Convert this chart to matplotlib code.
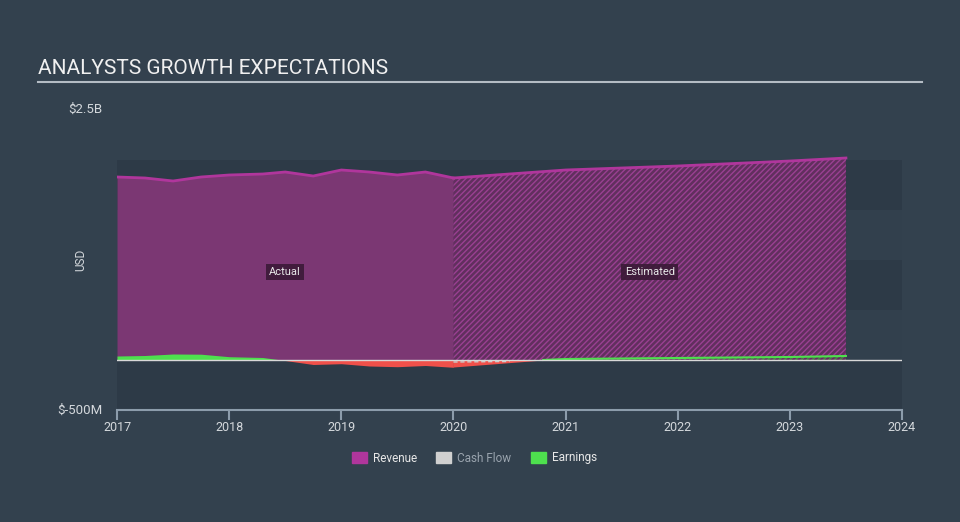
import matplotlib
matplotlib.use("Agg")
import matplotlib.pyplot as plt
from matplotlib.patches import Rectangle

plt.rcParams["font.family"] = ["Roboto", "DejaVu Sans"]
plt.rcParams["hatch.linewidth"] = 1.0

# revenue / earnings in billions USD
rev_years = [2017.0, 2017.25, 2017.5, 2017.75, 2018.0, 2018.3, 2018.5, 2018.75,
             2019.0, 2019.25, 2019.5, 2019.75, 2020.0]
rev_vals = [1.83, 1.82, 1.79, 1.83, 1.85, 1.86, 1.88, 1.84,
            1.90, 1.88, 1.85, 1.88, 1.82]
rev_est_years = [2020.0, 2021.0, 2022.0, 2023.0, 2023.5]
rev_est_vals = [1.82, 1.90, 1.94, 1.99, 2.02]

earn_years = [2017.0, 2017.25, 2017.5, 2017.75, 2018.0, 2018.3, 2018.5, 2018.75,
              2019.0, 2019.25, 2019.5, 2019.75, 2020.0]
earn_vals = [0.04, 0.045, 0.06, 0.058, 0.033, 0.025, -0.005, -0.045,
             -0.037, -0.06, -0.067, -0.055, -0.073]
earn_est_years = [2020.0, 2020.8, 2021.0, 2022.0, 2023.0, 2023.5]
earn_est_vals = [-0.07, 0.0, 0.01, 0.02, 0.03, 0.04]

cash_est_years = [2020.0, 2020.5]
cash_est_vals = [-0.02, -0.015]

year_ticks = [2017, 2018, 2019, 2020, 2021, 2022, 2023, 2024]

BG = "#33414e"
BAND = "#2d3a47"
REV_LINE = "#b0369c"
REV_FILL = "#7b3773"
GREEN = "#4ee04e"
RED = "#f0504a"
TXT = "#d4d8dc"
AXIS = "#8c9cab"

W, H = 960, 522
fig = plt.figure(figsize=(W / 100, H / 100), dpi=100, facecolor=BG)
ax = fig.add_axes([117 / W, (H - 410) / H, 785 / W, 300 / H])
ax.set_facecolor(BG)
ax.set_xlim(2017, 2024)
ax.set_ylim(-0.5, 2.5)

# alternating bands
for lo, hi, c in [(1.5, 2.0, BAND), (1.0, 1.5, "#32404d"), (0.5, 1.0, BAND),
                  (0.0, 0.5, "#32404d"), (-0.5, 0.0, BAND)]:
    ax.axhspan(lo, hi, color=c, lw=0, zorder=0)

# revenue actual
ax.fill_between(rev_years, 0, rev_vals, color=REV_FILL, lw=0, zorder=2)
ax.plot(rev_years, rev_vals, color=REV_LINE, lw=2, zorder=3)
# revenue estimated
ax.fill_between(rev_est_years, 0, rev_est_vals, facecolor="#612f5e", edgecolor="#9a4092",
                hatch="//////", lw=0, zorder=2)
ax.plot(rev_est_years, rev_est_vals, color=REV_LINE, lw=2, zorder=3)

# earnings
ax.fill_between(earn_years, 0, earn_vals, where=[v >= 0 for v in earn_vals],
                interpolate=True, color=GREEN, lw=0, zorder=4)
ax.fill_between(earn_years, 0, earn_vals, where=[v <= 0 for v in earn_vals],
                interpolate=True, color=RED, lw=0, zorder=4)
ax.fill_between(earn_est_years, 0, earn_est_vals, where=[v <= 0 for v in earn_est_vals],
                interpolate=True, color=RED, lw=0, zorder=4)
ax.fill_between(earn_est_years, 0, earn_est_vals, where=[v >= 0 for v in earn_est_vals],
                interpolate=True, facecolor="none", edgecolor="#3a8a3a", hatch="//////",
                lw=0, zorder=4)
pos_x = [x for x, v in zip(earn_est_years, earn_est_vals) if v >= 0]
pos_y = [v for v in earn_est_vals if v >= 0]
ax.plot(pos_x, pos_y, color=GREEN, lw=1.5, zorder=5)

# cash flow estimate (tiny, dashed)
ax.plot(cash_est_years, cash_est_vals, color="#cccccc", lw=1, ls=(0, (3, 2)), zorder=4)

ax.axhline(0, color="#d8d8d8", lw=1, zorder=6)

ax.text(2018.5, 0.88, "Actual", color="#e8e8e8", fontsize=8, ha="center", va="center",
        bbox=dict(boxstyle="square,pad=0.3", fc="#3b1a37", ec="none", alpha=0.9), zorder=7)
ax.text(2021.75, 0.88, "Estimated", color="#e8e8e8", fontsize=8, ha="center", va="center",
        bbox=dict(boxstyle="square,pad=0.3", fc="#3b1a37", ec="none", alpha=0.9), zorder=7)

for s in ["top", "right", "left"]:
    ax.spines[s].set_visible(False)
ax.spines["bottom"].set_color(AXIS)
ax.spines["bottom"].set_linewidth(1.5)
ax.set_yticks([])
ax.set_xticks(year_ticks)
ax.set_xticklabels([str(y) for y in year_ticks])
ax.tick_params(axis="x", colors=AXIS, length=7, width=1.5, labelcolor=TXT,
               labelsize=9, pad=1)

# title and rule
fig.text(38 / W, 1 - 68 / H, "ANALYSTS GROWTH EXPECTATIONS", color="#f0f0f0",
         fontsize=15, ha="left", va="center")
fig.add_artist(plt.Line2D([38 / W, 922 / W], [1 - 82 / H, 1 - 82 / H],
                          color="#b4bcc4", lw=1.5))

fig.text(102 / W, 1 - 109 / H, "$2.5B", color=TXT, fontsize=9.5, ha="right", va="center")
fig.text(102 / W, 1 - 410 / H, "$-500M", color=TXT, fontsize=9.5, ha="right", va="center")
fig.text(81 / W, 1 - 260 / H, "USD", color=TXT, fontsize=8.5, ha="center", va="center",
         rotation=90)

# legend
legend_items = [("Revenue", REV_LINE, "#e8e8e8", 352), ("Cash Flow", "#d0d0d0", "#9aa4ae", 436),
                ("Earnings", GREEN, "#e8e8e8", 531)]
for label, col, tcol, px in legend_items:
    fig.add_artist(Rectangle((px / W, 1 - 463 / H), 15 / W, 11 / H, color=col,
                             transform=fig.transFigure))
    fig.text((px + 21) / W, 1 - 458 / H, label, color=tcol, fontsize=8.5,
             ha="left", va="center")

fig.savefig("out.png", dpi=100, facecolor=BG)
